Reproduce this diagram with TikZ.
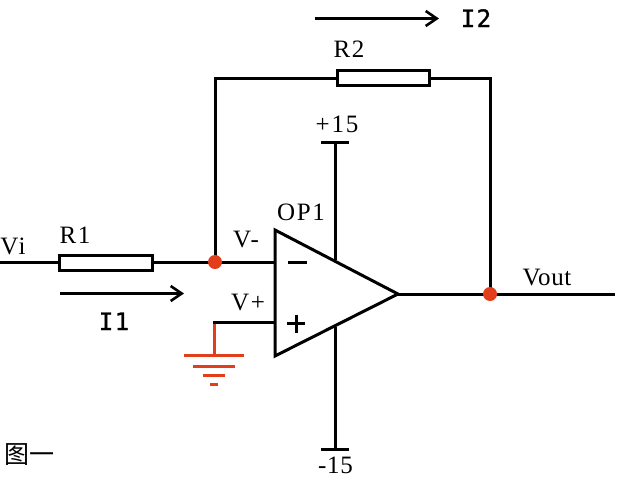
\documentclass[tikz,border=0pt]{standalone}
\usepackage{fontspec}
\setmainfont{Liberation Serif}
\newfontfamily\labfont[LetterSpace=7]{Liberation Serif}
\newfontfamily\tightfont[LetterSpace=2.5]{Liberation Serif}
\newfontfamily\cjkfont{Noto Sans CJK SC}
\newfontfamily\monofont[FakeBold=1.2,LetterSpace=6]{DejaVu Sans Mono}
\usetikzlibrary{arrows.meta}
\definecolor{redish}{RGB}{226,62,28}
\begin{document}
\begin{tikzpicture}[x=1pt,y=-1pt,
  wire/.style={line width=3pt,black,line cap=butt},
  thin wire/.style={line width=2.8pt,black},
  redwire/.style={line width=3pt,redish},
  res/.style={draw=black,line width=3pt,fill=white,minimum width=92.5pt,minimum height=15pt,inner sep=0pt},
  dot/.style={circle,fill=redish,minimum size=14pt,inner sep=0pt},
  lab/.style={font=\labfont\fontsize{25}{27}\selectfont,inner sep=0pt,anchor=base},
  tightlab/.style={font=\tightfont\fontsize{25}{27}\selectfont,inner sep=0pt,anchor=base},
  curlab/.style={font=\monofont\fontsize{24}{26}\selectfont,inner sep=0pt,anchor=base},
  flow/.style={line width=3pt,-{Straight Barb[length=11pt,width=15pt,line width=2.6pt]}}]
\useasboundingbox (0,0) rectangle (621,477);
% fixed points
\coordinate (vi) at (0,262);
\coordinate (out) at (615,294);
\coordinate (ta) at (275,230);
\coordinate (tb) at (275,356);
\coordinate (tip) at (398,294);
\coordinate (cul) at (215,78);
\coordinate (cor) at (490,78);
\coordinate (inm) at (275,262);
\coordinate (inp) at (275,322.5);
\coordinate (gc) at (214,322.5);
\coordinate (g0) at (214,355);
\coordinate (g1) at (214,366);
\coordinate (g2) at (214,375);
\coordinate (g3) at (214,384);
\coordinate (pt) at (335,142);
\coordinate (pe) at (335,260);
\coordinate (nt) at (335,449);
\coordinate (ne) at (335,327);
\coordinate (a1s) at (60,293.5);
\coordinate (a1e) at (184,293.5);
\coordinate (a2s) at (315,18.5);
\coordinate (a2e) at (439,18.5);
\node[res] (r1) at (106,262.5) {};
\node[res] (r2) at (383.5,78) {};
\coordinate (j1) at (215,262);
\coordinate (j2) at (490,294);
% wires
\draw[wire] (vi) -- (vi -| r1.west);
\draw[wire] (j1 -| r1.east) -- (j1);
\draw[wire] (j1) -- (inm);
\draw[wire,line join=miter] (j1) -- (cul) -- (r2.west);
\draw[wire,line join=miter] (r2.east) -- (cor) -- (j2);
\draw[wire] (tip) -- (out);
\draw[wire] (pt) -- (pe);
\draw[wire] (ne) -- (nt);
\draw[wire] ([xshift=-14pt]pt) -- ([xshift=14pt]pt);
\draw[wire] ([xshift=-14pt]nt) -- ([xshift=14pt]nt);
\draw[thin wire] (inp) -- ([xshift=-1.4pt]gc);
\draw[redwire] ([yshift=-1pt]gc) -- (g0);
\draw[redwire] ([xshift=-30pt]g0) -- ([xshift=30pt]g0);
\draw[redwire] ([xshift=-21pt]g1) -- ([xshift=21pt]g1);
\draw[redwire] ([xshift=-11pt]g2) -- ([xshift=11pt]g2);
\draw[redwire] ([xshift=-4pt]g3) -- ([xshift=4pt]g3);
\draw[wire,fill=white,line join=miter] (ta) -- (tip) -- (tb) -- cycle;
\node[dot] (d1) at (j1) {};
\node[dot] (d2) at (j2) {};
% polarity marks
\draw[line width=3pt] (288,262.5) -- (307,262.5);
\draw[line width=3pt] (287,323.5) -- (305,323.5) (296,314.5) -- (296,332.5);
% current arrows
\draw[flow] (a1s) -- (a1e);
\draw[flow] (a2s) -- (a2e);
% labels
\node[lab] (lvi) at (13,254) {Vi};
\node[lab] (lr1) at (75,243.5) {R1};
\node[lab] (lr2) at (349,57.5) {R2};
\node[lab] (lvm) at (246,247) {V-};
\node[lab] (lvp) at (248,310) {V+};
\node[lab] (lop) at (301,220) {OP1};
\node[lab] (lp15) at (337,132) {+15};
\node[tightlab] (ln15) at (335.5,473) {-15};
\node[tightlab] (lvo) at (547,285) {Vout};
\node[curlab] (li1) at (114,330) {I1};
\node[curlab] (li2) at (476,27) {I2};
\node[font=\cjkfont\fontsize{25}{27}\selectfont,inner sep=0pt,anchor=base] (lfig) at (30,463) {图一};
\end{tikzpicture}
\end{document}
